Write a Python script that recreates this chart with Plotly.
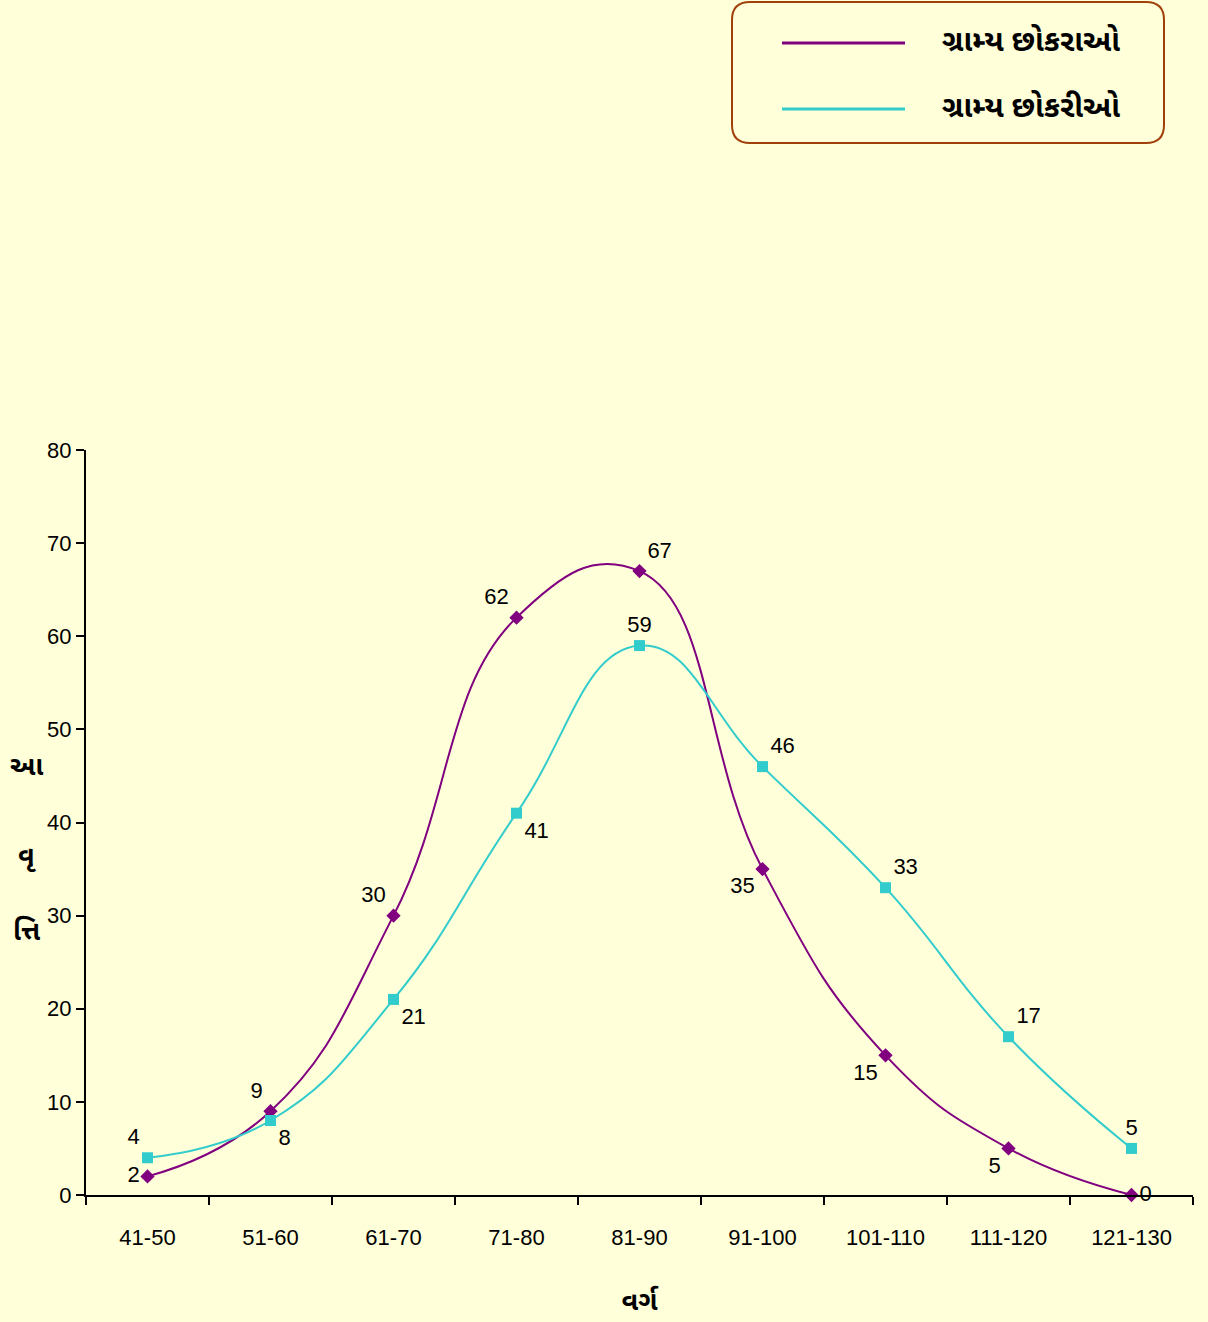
import plotly.graph_objects as go

categories = ["41-50", "51-60", "61-70", "71-80", "81-90", "91-100", "101-110", "111-120", "121-130"]
boys = [2, 9, 30, 62, 67, 35, 15, 5, 0]
girls = [4, 8, 21, 41, 59, 46, 33, 17, 5]
series_names = ["ગ્રામ્ય છોકરાઓ", "ગ્રામ્ય છોકરીઓ"]
x_title = "વર્ગ"
y_title_parts = ["આ", "વૃ", "ત્તિ"]

boys_pos = ["middle left", "top left", "top left", "top left", "top right",
            "bottom left", "bottom left", "bottom left", "middle right"]
girls_pos = ["top left", "bottom right", "bottom right", "bottom right", "top center",
             "top right", "top right", "top right", "top center"]

PURPLE = "#800080"
CYAN = "#33CCCC"
BG = "#FFFFD9"
FONT = "Liberation Sans, Arial, sans-serif"
GUJ = "Noto Sans Gujarati, Noto Sans, Liberation Sans, sans-serif"

fig = go.Figure()
fig.add_trace(go.Scatter(
    x=categories, y=boys, mode="lines+markers+text", name=series_names[0],
    line=dict(color=PURPLE, width=2, shape="spline", smoothing=1.3),
    marker=dict(symbol="diamond", size=11, color=PURPLE),
    text=[str(v) for v in boys], textposition=boys_pos,
    textfont=dict(family=FONT, size=22, color="black"),
    cliponaxis=False, showlegend=False))
fig.add_trace(go.Scatter(
    x=categories, y=girls, mode="lines+markers+text", name=series_names[1],
    line=dict(color=CYAN, width=2, shape="spline", smoothing=1.3),
    marker=dict(symbol="square", size=11, color=CYAN),
    text=[str(v) for v in girls], textposition=girls_pos,
    textfont=dict(family=FONT, size=22, color="black"),
    cliponaxis=False, showlegend=False))

fig.update_layout(
    width=1208, height=1322,
    paper_bgcolor=BG, plot_bgcolor=BG,
    margin=dict(l=86, r=15, t=450, b=127),
    font=dict(family=FONT, size=22, color="black"),
    showlegend=False,
)
fig.update_xaxes(
    type="category", showline=True, linecolor="black", linewidth=2,
    ticks="outside", ticklen=8, tickwidth=2, tickcolor="black", tickson="boundaries",
    showgrid=False, zeroline=False, ticklabelstandoff=22,
    tickfont=dict(family=FONT, size=22), range=[-0.5, 8.5],
    title=dict(text=f"<b>{x_title}</b>", font=dict(family=GUJ, size=27), standoff=42),
)
fig.update_yaxes(
    range=[0, 80], dtick=10, showline=True, linecolor="black", linewidth=2,
    ticks="outside", ticklen=8, tickwidth=2, tickcolor="black",
    showgrid=False, zeroline=False, tickfont=dict(family=FONT, size=22),
)

# vertical stacked y-axis title
for part, yy in zip(y_title_parts, [0.573, 0.452, 0.352]):
    fig.add_annotation(xref="paper", yref="paper", x=-0.053, y=yy,
                       text=f"<b>{part}</b>", showarrow=False,
                       font=dict(family=GUJ, size=27), xanchor="center", yanchor="middle")

# custom legend with rounded box (pixel -> paper conversion)
W, H, L, R, T, B = 1208, 1322, 86, 15, 450, 127
pw, ph = W - L - R, H - T - B
def px(x): return (x - L) / pw
def py(y): return (H - B - y) / ph

x0, x1, y0, y1, rr = 732, 1164, 2, 143, 18
path = (f"M {px(x0+rr)},{py(y0)} L {px(x1-rr)},{py(y0)} Q {px(x1)},{py(y0)} {px(x1)},{py(y0+rr)} "
        f"L {px(x1)},{py(y1-rr)} Q {px(x1)},{py(y1)} {px(x1-rr)},{py(y1)} "
        f"L {px(x0+rr)},{py(y1)} Q {px(x0)},{py(y1)} {px(x0)},{py(y1-rr)} "
        f"L {px(x0)},{py(y0+rr)} Q {px(x0)},{py(y0)} {px(x0+rr)},{py(y0)} Z")
fig.add_shape(type="path", xref="paper", yref="paper", path=path,
              line=dict(color="#A0400A", width=2), fillcolor=BG)
for name, color, yy in [(series_names[0], PURPLE, 43), (series_names[1], CYAN, 109)]:
    fig.add_shape(type="line", xref="paper", yref="paper",
                  x0=px(782), x1=px(905), y0=py(yy), y1=py(yy),
                  line=dict(color=color, width=3))
    fig.add_annotation(xref="paper", yref="paper", x=px(940), y=py(yy),
                       text=f"<b>{name}</b>", showarrow=False, xanchor="left", yanchor="middle",
                       font=dict(family=GUJ, size=30, color="black"))

fig.write_html("out.html", config={"displayModeBar": False},
               post_script="document.body.style.margin='0';")
